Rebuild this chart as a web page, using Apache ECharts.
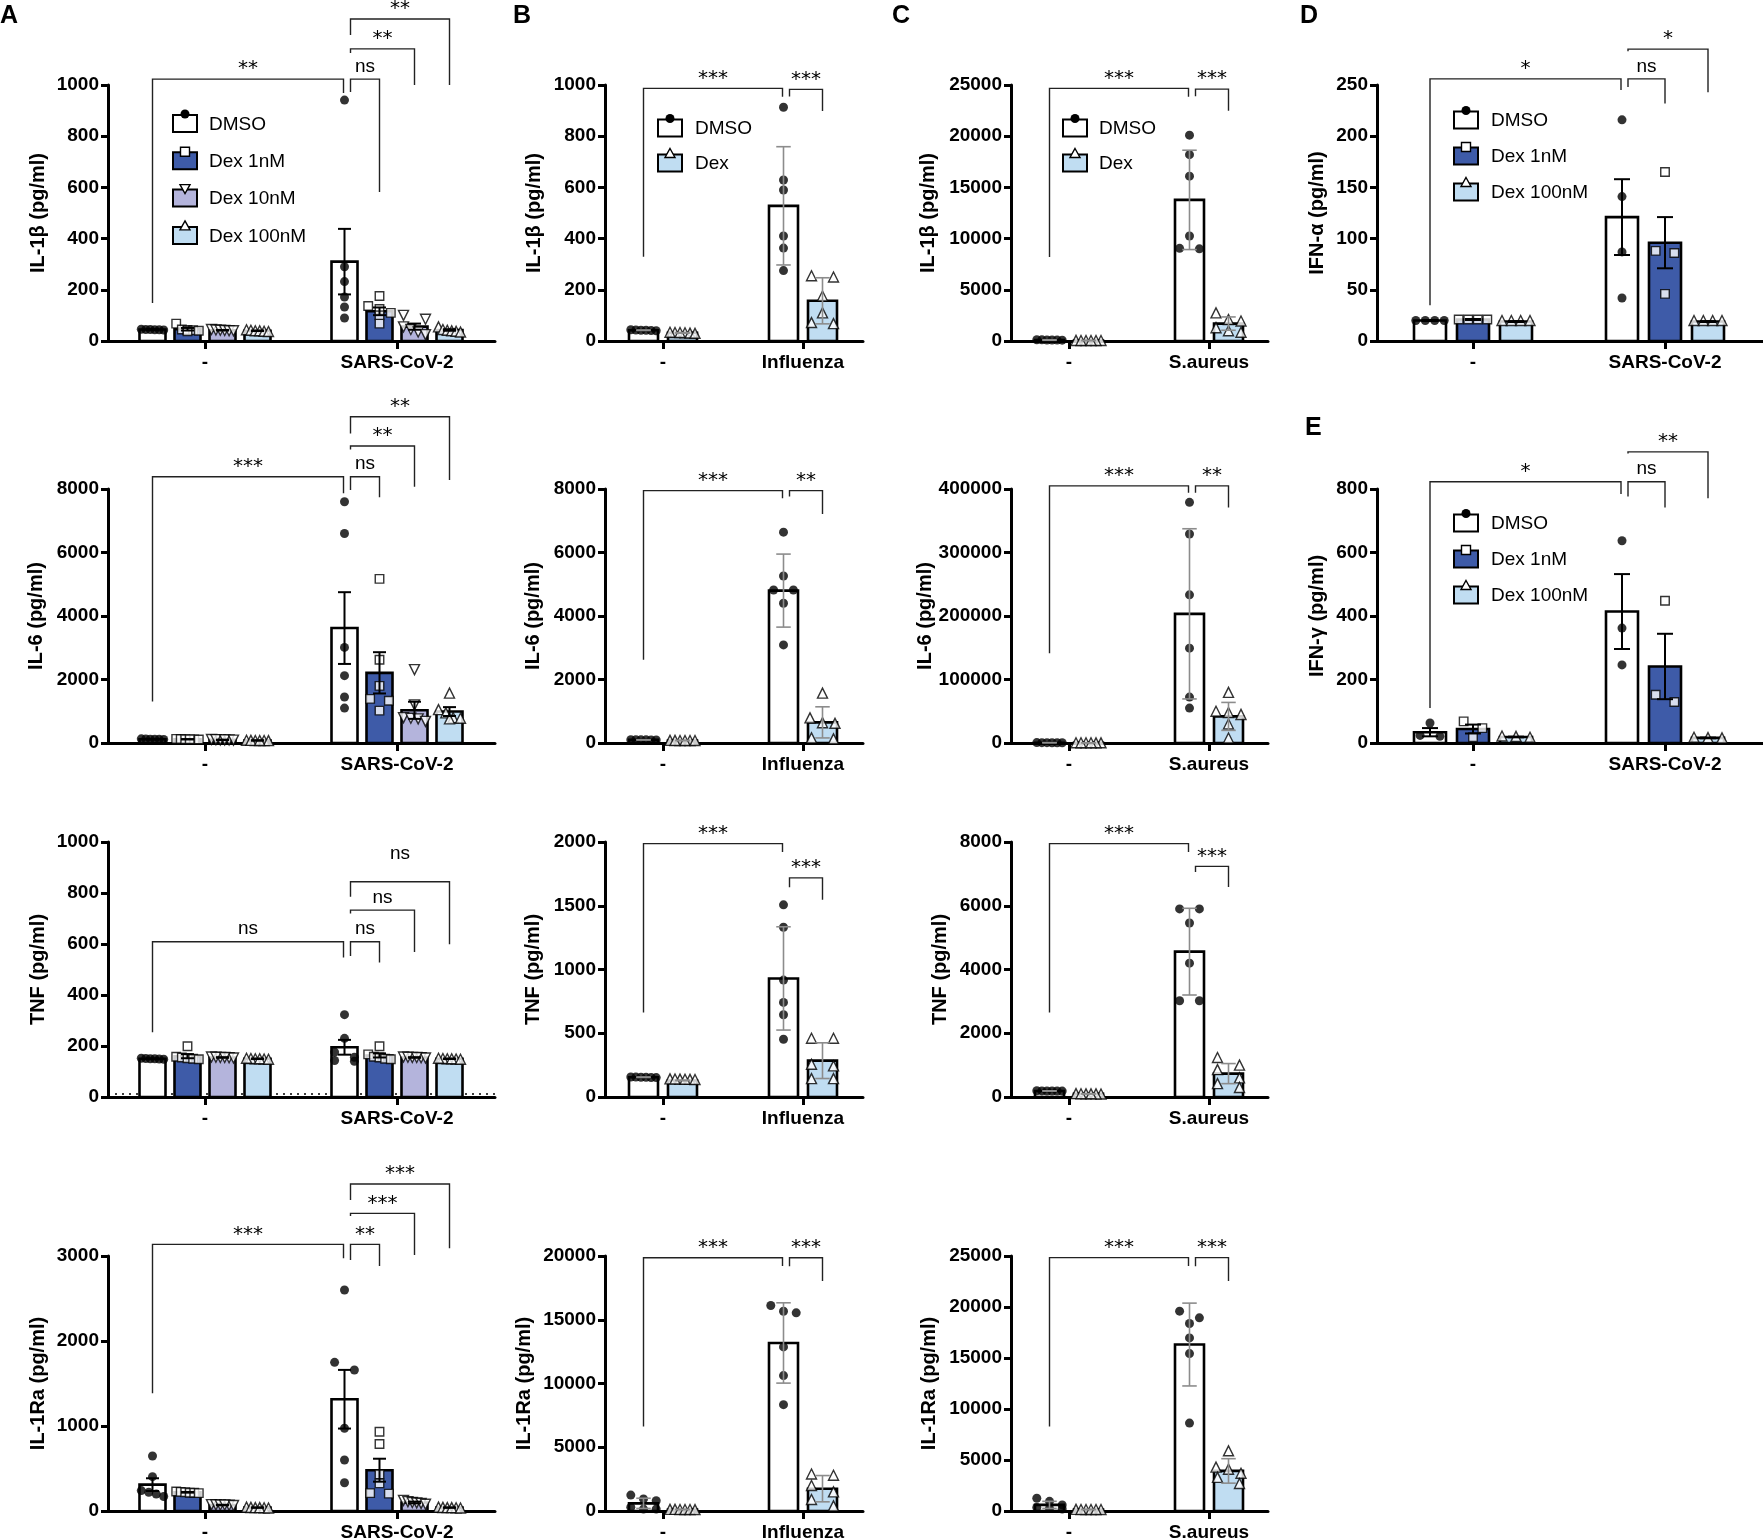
<!DOCTYPE html>
<html><head><meta charset="utf-8">
<script src="https://cdn.jsdelivr.net/npm/echarts@6/dist/echarts.min.js"></script>
<style>html,body{margin:0;padding:0;background:#fff}#c{width:1763px;height:1540px}</style>
</head><body><div id="c"></div>
<script>
// ---------------- DATA ----------------
const COND_SARS = ['-', 'SARS-CoV-2'];
const COND_FLU = ['-', 'Influenza'];
const COND_SA = ['-', 'S.aureus'];
const TREAT_4 = ['DMSO', 'Dex 1nM', 'Dex 10nM', 'Dex 100nM'];
const TREAT_2 = ['DMSO', 'Dex'];
const TREAT_3 = ['DMSO', 'Dex 1nM', 'Dex 100nM'];

// index: [condition][treatment]
const IL1B_SARS_MEAN = [[45, 46, 42, 40], [310, 116, 56, 43]];
const IL1B_SARS_ERR = [[1, 5, 1, 1], [128, 15, 12, 3]];
const IL1B_SARS_PTS = [
  [[44, 45, 43, 46, 44, 45], [68, 45, 43, 42, 40, 38], [45, 43, 42, 41, 40, 40], [44, 42, 40, 40, 38, 37]],
  [[941, 290, 232, 172, 133, 90], [176, 137, 125, 110, 100, 68], [100, 85, 55, 45, 35, 25], [55, 45, 42, 40, 38, 35]]
];
const IL1B_SARS_BR = [
  {a: [0, 0], b: [1, 0], y: 1023, la: 148, lb: 969, t: '**'},
  {a: [1, 0], b: [1, 1], y: 1023, la: 973, lb: 582, t: 'ns'},
  {a: [1, 0], b: [1, 2], y: 1141, la: 1125, lb: 1000, t: '**'},
  {a: [1, 0], b: [1, 3], y: 1258, la: 1195, lb: 1000, t: '**'}
];

const IL6_SARS_MEAN = [[120, 118, 100, 80], [3620, 2210, 1030, 990]];
const IL6_SARS_ERR = [[5, 5, 5, 5], [1130, 650, 270, 140]];
const IL6_SARS_PTS = [
  [[130, 120, 115, 125, 118, 112], [130, 125, 120, 115, 118, 112], [110, 100, 95, 105, 98, 92], [85, 80, 78, 82, 76, 79]],
  [[7600, 6600, 3010, 2120, 1450, 1100], [5170, 2620, 1800, 1390, 1330, 1020], [2310, 1200, 800, 780, 760, 680], [1570, 1050, 950, 800, 780, 760]]
];
const IL6_SARS_BR = [
  {a: [0, 0], b: [1, 0], y: 8388, la: 1311, lb: 7864, t: '***'},
  {a: [1, 0], b: [1, 1], y: 8388, la: 7969, lb: 7738, t: 'ns'},
  {a: [1, 0], b: [1, 2], y: 9353, la: 9248, lb: 8073, t: '**'},
  {a: [1, 0], b: [1, 3], y: 10275, la: 9751, lb: 8283, t: '**'}
];

const TNF_SARS_MEAN = [[150, 160, 155, 150], [195, 163, 155, 150]];
const TNF_SARS_ERR = [[1, 8, 1, 1], [29, 8, 1, 1]];
const TNF_SARS_PTS = [
  [[152, 150, 149, 151, 150, 148], [199, 158, 155, 152, 150, 148], [157, 155, 154, 156, 153, 155], [150, 151, 149, 150, 148, 152]],
  [[323, 230, 176, 156, 143, 140], [199, 167, 158, 155, 150, 148], [157, 155, 154, 156, 153, 155], [150, 151, 149, 150, 148, 152]]
];
const TNF_SARS_BR = [
  {a: [0, 0], b: [1, 0], y: 609, la: 254, lb: 547, t: 'ns'},
  {a: [1, 0], b: [1, 1], y: 609, la: 553, lb: 527, t: 'ns'},
  {a: [1, 0], b: [1, 2], y: 733, la: 720, lb: 569, t: 'ns'},
  {a: [1, 0], b: [1, 3], y: 844, la: 785, lb: 599, t: 'ns', lift: 16}
];

const IL1RA_SARS_MEAN = [[310, 220, 70, 40], [1315, 480, 100, 40]];
const IL1RA_SARS_ERR = [[75, 4, 3, 2], [345, 135, 10, 2]];
const IL1RA_SARS_PTS = [
  [[647, 404, 240, 220, 200, 170], [230, 225, 220, 215, 215, 210], [75, 72, 70, 68, 70, 65], [45, 42, 40, 38, 40, 35]],
  [[2600, 1749, 1659, 973, 600, 333], [933, 788, 431, 325, 210, 205], [125, 110, 100, 95, 90, 80], [45, 42, 40, 38, 40, 35]]
];
const IL1RA_SARS_BR = [
  {a: [0, 0], b: [1, 0], y: 3137, la: 1384, lb: 2973, t: '***'},
  {a: [1, 0], b: [1, 1], y: 3137, la: 2953, lb: 2882, t: '**'},
  {a: [1, 0], b: [1, 2], y: 3502, la: 3470, lb: 3012, t: '***'},
  {a: [1, 0], b: [1, 3], y: 3847, la: 3660, lb: 3090, t: '***'}
];

const IL1B_FLU_MEAN = [[42, 32], [528, 157]];
const IL1B_FLU_ERR = [[1, 1], [231, 90]];
const IL1B_FLU_PTS = [
  [[42, 43, 41, 42, 44, 40], [33, 32, 34, 31, 33, 30]],
  [[913, 629, 590, 410, 363, 275], [255, 250, 176, 110, 72, 68]]
];
const IL1B_FLU_BR = [
  {a: [0, 0], b: [1, 0], y: 987, la: 329, lb: 954, t: '***'},
  {a: [1, 0], b: [1, 1], y: 983, la: 955, lb: 898, t: '***'}
];

const IL6_FLU_MEAN = [[100, 80], [4800, 650]];
const IL6_FLU_ERR = [[5, 5], [1150, 490]];
const IL6_FLU_PTS = [
  [[100, 105, 98, 102, 96, 99], [80, 78, 82, 79, 81, 77]],
  [[6640, 5260, 4820, 4820, 4400, 3090], [1570, 790, 640, 620, 160, 130]]
];
const IL6_FLU_BR = [
  {a: [0, 0], b: [1, 0], y: 7948, la: 2621, lb: 7707, t: '***'},
  {a: [1, 0], b: [1, 1], y: 7948, la: 7760, lb: 7214, t: '**'}
];

const TNF_FLU_MEAN = [[155, 130], [930, 285]];
const TNF_FLU_ERR = [[2, 2], [405, 140]];
const TNF_FLU_PTS = [
  [[155, 153, 157, 154, 156, 152], [140, 142, 138, 141, 139, 137]],
  [[1507, 1331, 917, 742, 645, 453], [461, 461, 257, 244, 144, 144]]
];
const TNF_FLU_BR = [
  {a: [0, 0], b: [1, 0], y: 1987, la: 663, lb: 1921, t: '***'},
  {a: [1, 0], b: [1, 1], y: 1719, la: 1646, lb: 1547, t: '***'}
];

const IL1RA_FLU_MEAN = [[600, 120], [13180, 1750]];
const IL1RA_FLU_ERR = [[400, 8], [3150, 1030]];
const IL1RA_FLU_PTS = [
  [[1250, 950, 800, 300, 150, 150], [130, 125, 120, 118, 115, 112]],
  [[16120, 15670, 15540, 12870, 10620, 8340], [2900, 2800, 2000, 1500, 900, 400]]
];
const IL1RA_FLU_BR = [
  {a: [0, 0], b: [1, 0], y: 19867, la: 6631, lb: 19212, t: '***'},
  {a: [1, 0], b: [1, 1], y: 19867, la: 19200, lb: 18032, t: '***'}
];

const IL1B_SA_MEAN = [[100, 50], [13780, 1700]];
const IL1B_SA_ERR = [[30, 10], [4850, 650]];
const IL1B_SA_PTS = [
  [[120, 100, 90, 110, 95, 85], [50, 55, 45, 52, 48, 50]],
  [[20100, 18200, 16100, 10250, 9050, 9000], [2750, 2100, 1950, 1300, 1000, 850]]
];
const IL1B_SA_BR = [
  {a: [0, 0], b: [1, 0], y: 24674, la: 8214, lb: 23860, t: '***'},
  {a: [1, 0], b: [1, 1], y: 24600, la: 23900, lb: 22490, t: '***'}
];

const IL6_SA_MEAN = [[500, 300], [203400, 41900]];
const IL6_SA_ERR = [[100, 50], [134000, 22000]];
const IL6_SA_PTS = [
  [[600, 500, 450, 550, 480, 420], [300, 320, 280, 310, 290, 300]],
  [[379000, 329200, 233300, 149400, 72300, 55000], [79700, 50000, 48000, 45000, 30000, 7900]]
];
const IL6_SA_BR = [
  {a: [0, 0], b: [1, 0], y: 405000, la: 141500, lb: 394000, t: '***'},
  {a: [1, 0], b: [1, 1], y: 405000, la: 394000, lb: 371000, t: '**'}
];

const TNF_SA_MEAN = [[190, 100], [4560, 734]];
const TNF_SA_ERR = [[5, 5], [1360, 315]];
const TNF_SA_PTS = [
  [[190, 195, 185, 192, 188, 190], [100, 105, 95, 102, 98, 100]],
  [[5900, 5900, 5460, 4200, 3020, 3020], [1240, 1000, 860, 600, 420, 300]]
];
const TNF_SA_BR = [
  {a: [0, 0], b: [1, 0], y: 7948, la: 2653, lb: 7685, t: '***'},
  {a: [1, 0], b: [1, 1], y: 7235, la: 7056, lb: 6585, t: '***'}
];

const IL1RA_SA_MEAN = [[600, 150], [16320, 3930]];
const IL1RA_SA_ERR = [[350, 8], [4060, 1200]];
const IL1RA_SA_PTS = [
  [[1250, 950, 600, 350, 250, 200], [150, 155, 145, 150, 148, 152]],
  [[19590, 18940, 18380, 16970, 15430, 8620], [5900, 4300, 4100, 3700, 3300, 2700]]
];
const IL1RA_SA_BR = [
  {a: [0, 0], b: [1, 0], y: 24836, la: 8290, lb: 24017, t: '***'},
  {a: [1, 0], b: [1, 1], y: 24836, la: 24000, lb: 22542, t: '***'}
];

const IFNA_MEAN = [[20, 21, 19], [121, 96, 19]];
const IFNA_ERR = [[0.5, 0.5, 0.5], [37, 25, 0.5]];
const IFNA_PTS = [
  [[20, 20, 20, 20], [21, 21, 21, 21], [20, 20, 20, 20]],
  [[216, 141, 87, 42], [165, 88, 86, 46], [20, 20, 20, 20]]
];
const IFNA_BR = [
  {a: [0, 0], b: [1, 0], y: 256, la: 35, lb: 245, t: '*'},
  {a: [1, 0], b: [1, 1], y: 256, la: 248, lb: 232, t: 'ns'},
  {a: [1, 0], b: [1, 2], y: 285, la: 283, lb: 243, t: '*'}
];

const IFNG_MEAN = [[34, 44, 19], [414, 241, 16]];
const IFNG_ERR = [[13, 14, 1], [118, 103, 1]];
const IFNG_PTS = [
  [[63, 24, 21], [68, 47, 18], [22, 21, 18]],
  [[637, 362, 246], [448, 152, 129], [18, 17, 16]]
];
const IFNG_BR = [
  {a: [0, 0], b: [1, 0], y: 823, la: 110, lb: 784, t: '*'},
  {a: [1, 0], b: [1, 1], y: 823, la: 776, lb: 742, t: 'ns'},
  {a: [1, 0], b: [1, 2], y: 917, la: 912, lb: 771, t: '**'}
];

// ---------------- LAYOUT / STYLE ----------------
const ROWS = [{top: 85, bottom: 341}, {top: 489, bottom: 743}, {top: 842, bottom: 1097}, {top: 1256, bottom: 1511}];
const COLS = {
  A: {left: 108, right: 495, t0: 205, t1: 397, sp: 35, bw: 26},
  B: {left: 605, right: 863, t0: 663, t1: 803, sp: 39, bw: 29},
  C: {left: 1011, right: 1268, t0: 1069, t1: 1209, sp: 39, bw: 29},
  D: {left: 1377, right: 1763, t0: 1473, t1: 1665, sp: 43, bw: 32}
};
const FILL = {'DMSO': '#ffffff', 'Dex 1nM': '#3e5ba8', 'Dex 10nM': '#b4b4dc', 'Dex 100nM': '#c0ddf2', 'Dex': '#c0ddf2'};
const SYM = {
  'DMSO': {symbol: 'circle', size: 9, rot: 0, style: {color: '#000'}},
  'Dex 1nM': {symbol: 'rect', size: 8.5, rot: 0, style: {color: '#fff', borderColor: '#000', borderWidth: 1.4}},
  'Dex 10nM': {symbol: 'triangle', size: 10, rot: 180, style: {color: '#fff', borderColor: '#000', borderWidth: 1.4}},
  'Dex 100nM': {symbol: 'triangle', size: 10, rot: 0, style: {color: '#fff', borderColor: '#000', borderWidth: 1.4}},
  'Dex': {symbol: 'triangle', size: 10, rot: 0, style: {color: '#fff', borderColor: '#000', borderWidth: 1.4}}
};
const FONT = 'Liberation Sans';

const PANELS = [
  {row: 0, col: 'A', name: 'IL-1β (pg/ml)', cond: COND_SARS, treat: TREAT_4, max: 1000, step: 200, mean: IL1B_SARS_MEAN, err: IL1B_SARS_ERR, pts: IL1B_SARS_PTS, br: IL1B_SARS_BR, gap: 60, sd: false, legend: {x: 173, y: 123.5, dy: 37.3, tx: 209}},
  {row: 0, col: 'B', name: 'IL-1β (pg/ml)', cond: COND_FLU, treat: TREAT_2, max: 1000, step: 200, mean: IL1B_FLU_MEAN, err: IL1B_FLU_ERR, pts: IL1B_FLU_PTS, br: IL1B_FLU_BR, gap: 61, sd: true, legend: {x: 658, y: 128, dy: 35, tx: 695}},
  {row: 0, col: 'C', name: 'IL-1β (pg/ml)', cond: COND_SA, treat: TREAT_2, max: 25000, step: 5000, mean: IL1B_SA_MEAN, err: IL1B_SA_ERR, pts: IL1B_SA_PTS, br: IL1B_SA_BR, gap: 73, sd: true, legend: {x: 1063, y: 128, dy: 35, tx: 1099}},
  {row: 0, col: 'D', name: 'IFN-α (pg/ml)', cond: COND_SARS, treat: TREAT_3, max: 250, step: 50, mean: IFNA_MEAN, err: IFNA_ERR, pts: IFNA_PTS, br: IFNA_BR, gap: 50, sd: false, legend: {x: 1454, y: 120, dy: 36, tx: 1491}},
  {row: 1, col: 'A', name: 'IL-6 (pg/ml)', cond: COND_SARS, treat: TREAT_4, max: 8000, step: 2000, mean: IL6_SARS_MEAN, err: IL6_SARS_ERR, pts: IL6_SARS_PTS, br: IL6_SARS_BR, gap: 62, sd: false},
  {row: 1, col: 'B', name: 'IL-6 (pg/ml)', cond: COND_FLU, treat: TREAT_2, max: 8000, step: 2000, mean: IL6_FLU_MEAN, err: IL6_FLU_ERR, pts: IL6_FLU_PTS, br: IL6_FLU_BR, gap: 62, sd: true},
  {row: 1, col: 'C', name: 'IL-6 (pg/ml)', cond: COND_SA, treat: TREAT_2, max: 400000, step: 100000, mean: IL6_SA_MEAN, err: IL6_SA_ERR, pts: IL6_SA_PTS, br: IL6_SA_BR, gap: 76, sd: true},
  {row: 1, col: 'D', name: 'IFN-γ (pg/ml)', cond: COND_SARS, treat: TREAT_3, max: 800, step: 200, mean: IFNG_MEAN, err: IFNG_ERR, pts: IFNG_PTS, br: IFNG_BR, gap: 50, sd: false, legend: {x: 1454, y: 523, dy: 36, tx: 1491}},
  {row: 2, col: 'A', name: 'TNF (pg/ml)', cond: COND_SARS, treat: TREAT_4, max: 1000, step: 200, mean: TNF_SARS_MEAN, err: TNF_SARS_ERR, pts: TNF_SARS_PTS, br: TNF_SARS_BR, gap: 60, sd: false, dotted: true},
  {row: 2, col: 'B', name: 'TNF (pg/ml)', cond: COND_FLU, treat: TREAT_2, max: 2000, step: 500, mean: TNF_FLU_MEAN, err: TNF_FLU_ERR, pts: TNF_FLU_PTS, br: TNF_FLU_BR, gap: 62, sd: true},
  {row: 2, col: 'C', name: 'TNF (pg/ml)', cond: COND_SA, treat: TREAT_2, max: 8000, step: 2000, mean: TNF_SA_MEAN, err: TNF_SA_ERR, pts: TNF_SA_PTS, br: TNF_SA_BR, gap: 61, sd: true},
  {row: 3, col: 'A', name: 'IL-1Ra (pg/ml)', cond: COND_SARS, treat: TREAT_4, max: 3000, step: 1000, mean: IL1RA_SARS_MEAN, err: IL1RA_SARS_ERR, pts: IL1RA_SARS_PTS, br: IL1RA_SARS_BR, gap: 60, sd: false},
  {row: 3, col: 'B', name: 'IL-1Ra (pg/ml)', cond: COND_FLU, treat: TREAT_2, max: 20000, step: 5000, mean: IL1RA_FLU_MEAN, err: IL1RA_FLU_ERR, pts: IL1RA_FLU_PTS, br: IL1RA_FLU_BR, gap: 71, sd: true},
  {row: 3, col: 'C', name: 'IL-1Ra (pg/ml)', cond: COND_SA, treat: TREAT_2, max: 25000, step: 5000, mean: IL1RA_SA_MEAN, err: IL1RA_SA_ERR, pts: IL1RA_SA_PTS, br: IL1RA_SA_BR, gap: 72, sd: true}
];
const LETTERS = [
  {t: 'A', x: 0, y: 16}, {t: 'B', x: 513, y: 16}, {t: 'C', x: 892, y: 16},
  {t: 'D', x: 1300, y: 16}, {t: 'E', x: 1305, y: 428}
];

// horizontal spreading of overlapping points (beeswarm-like, deterministic)
function swarm(vals, max, plotH, sym, barW) {
  const idx = vals.map((v, i) => i).sort((a, b) => vals[b] - vals[a]);
  const off = new Array(vals.length).fill(0);
  let k = 0;
  while (k < idx.length) {
    const start = vals[idx[k]] / max * plotH;
    let j = k + 1;
    while (j < idx.length && start - vals[idx[j]] / max * plotH < sym * 0.9) j++;
    const n = j - k;
    if (n > 1) {
      const s = Math.min(sym * 2.2, (barW - sym * 0.4) / (n - 1));
      for (let q = 0; q < n; q++) off[idx[k + q]] = (q - (n - 1) / 2) * s;
    }
    k = j;
  }
  return off;
}

const option = {animation: false, grid: [], xAxis: [], yAxis: [], series: [], graphic: []};

PANELS.forEach((p, k) => {
  const col = COLS[p.col], row = ROWS[p.row];
  const unit = col.t1 - col.t0;
  const plotH = row.bottom - row.top;
  const nT = p.treat.length;
  const xs = (c, i) => c + (i - (nT - 1) / 2) * col.sp / unit;
  const axisLS = {color: '#000', width: 3};

  option.grid.push({left: col.left, top: row.top, width: col.right - col.left, height: plotH, containLabel: false, outerBoundsMode: 'none'});
  option.xAxis.push({
    gridIndex: k, type: 'value', min: (col.left - col.t0) / unit, max: (col.right - col.t0) / unit,
    axisLine: {show: true, onZero: false, lineStyle: axisLS},
    axisTick: {show: true, customValues: [0, 1], length: 8, lineStyle: axisLS},
    axisLabel: {show: true, customValues: [0, 1], formatter: v => p.cond[Math.round(v)], margin: 12,
      fontFamily: FONT, fontWeight: 'bold', fontSize: 19, color: '#000'},
    splitLine: {show: false}
  });
  option.yAxis.push({
    gridIndex: k, type: 'value', min: 0, max: p.max, interval: p.step,
    name: p.name, nameLocation: 'middle', nameGap: p.gap, nameMoveOverlap: false,
    nameTextStyle: {fontFamily: FONT, fontWeight: 'bold', fontSize: 20, color: '#000'},
    axisLine: {show: true, onZero: false, lineStyle: axisLS},
    axisTick: {show: true, length: 7, lineStyle: axisLS},
    axisLabel: {formatter: v => String(v), margin: 9, fontFamily: FONT, fontWeight: 'bold', fontSize: 19, color: '#000'},
    splitLine: {show: false}
  });

  // bars
  const barData = [];
  for (let c = 0; c < 2; c++) for (let i = 0; i < nT; i++) barData.push([xs(c, i), p.mean[c][i], p.err[c][i], i]);
  option.series.push({
    type: 'custom', xAxisIndex: k, yAxisIndex: k, z: 2, silent: true, data: barData,
    renderItem: (params, api) => {
      const x = api.value(0), m = api.value(1), ti = api.value(3);
      const a = api.coord([x, 0]), b = api.coord([x, m]);
      return {type: 'rect', shape: {x: a[0] - col.bw / 2, y: b[1], width: col.bw, height: a[1] - b[1]},
        style: {fill: FILL[p.treat[ti]], stroke: '#000', lineWidth: 2.6}};
    }
  });

  // points
  p.treat.forEach((tname, i) => {
    const sy = SYM[tname];
    const data = [];
    for (let c = 0; c < 2; c++) {
      const vals = p.pts[c][i];
      const off = swarm(vals, p.max, plotH, sy.size, col.bw);
      vals.forEach((v, q) => data.push([xs(c, i) + off[q] / unit, v]));
    }
    option.series.push({type: 'scatter', name: tname, xAxisIndex: k, yAxisIndex: k, z: 3, silent: true, clip: false,
      symbol: sy.symbol, symbolSize: sy.size, symbolRotate: sy.rot, itemStyle: sy.style, data});
  });

  // error bars
  const ecol = p.sd ? '#8c8c8c' : '#000', ew = p.sd ? 1.6 : 2;
  option.series.push({
    type: 'custom', xAxisIndex: k, yAxisIndex: k, z: 4, silent: true, data: barData,
    renderItem: (params, api) => {
      const x = api.value(0), m = api.value(1), e = api.value(2);
      const t = api.coord([x, m + e]), b = api.coord([x, Math.max(0, m - e)]);
      const cw = col.bw * 0.5, cx = t[0];
      const st = {stroke: ecol, lineWidth: ew};
      return {type: 'group', children: [
        {type: 'line', shape: {x1: cx, y1: t[1], x2: cx, y2: b[1]}, style: st},
        {type: 'line', shape: {x1: cx - cw / 2, y1: t[1], x2: cx + cw / 2, y2: t[1]}, style: st},
        {type: 'line', shape: {x1: cx - cw / 2, y1: b[1], x2: cx + cw / 2, y2: b[1]}, style: st}
      ]};
    }
  });

  // significance brackets
  option.series.push({
    type: 'custom', xAxisIndex: k, yAxisIndex: k, z: 5, silent: true, clip: false,
    data: p.br.map(br => [xs(br.a[0], br.a[1]), 0]),
    renderItem: (params, api) => {
      const br = p.br[params.dataIndex];
      const same = br.a[0] === br.b[0];
      const x1 = xs(br.a[0], br.a[1]) + (same ? 6 / unit : 0);
      const x2 = xs(br.b[0], br.b[1]) - (same ? 0 : 1 / unit);
      const pl = api.coord([x1, br.y]), pr = api.coord([x2, br.y]);
      const pla = api.coord([x1, br.la]), plb = api.coord([x2, br.lb]);
      const st = {stroke: '#222', lineWidth: 1.4};
      const star = br.t !== 'ns';
      return {type: 'group', children: [
        {type: 'polyline', shape: {points: [[pla[0], pla[1]], [pl[0], pl[1]], [pr[0], pr[1]], [plb[0], plb[1]]]}, style: Object.assign({fill: null}, st)},
        {type: 'text', x: (pl[0] + pr[0]) / 2, y: pl[1] - (star ? 0 : 3) - (br.lift || 0),
          style: {text: br.t, fill: '#000', textAlign: 'center', textVerticalAlign: 'bottom',
            font: star ? '20px "DejaVu Sans"' : '19px "Liberation Sans"'}}
      ]};
    }
  });

  // dotted baseline just above the x axis (TNF SARS-CoV-2 panel)
  if (p.dotted) {
    option.graphic.push({type: 'line', z: 1, silent: true,
      shape: {x1: col.left, y1: row.bottom - 3, x2: col.right, y2: row.bottom - 3},
      style: {stroke: '#000', lineWidth: 1.5, lineDash: [2, 5]}});
  }

  // legend
  if (p.legend) {
    const L = p.legend;
    p.treat.forEach((tname, i) => {
      const cy = L.y + i * L.dy;
      const top = cy - 8.5, mx = L.x + 12;
      option.graphic.push({type: 'rect', silent: true, shape: {x: L.x, y: top, width: 24, height: 17},
        style: {fill: FILL[tname], stroke: '#000', lineWidth: 2}});
      const sy = SYM[tname];
      let mk;
      if (sy.symbol === 'circle') mk = {type: 'circle', shape: {cx: mx, cy: top - 1, r: 4.5}, style: {fill: '#000'}};
      else if (sy.symbol === 'rect') mk = {type: 'rect', shape: {x: mx - 4.5, y: top - 5, width: 9, height: 9}, style: {fill: '#fff', stroke: '#000', lineWidth: 1.4}};
      else if (sy.rot === 180) mk = {type: 'polygon', shape: {points: [[mx - 5, top - 5], [mx + 5, top - 5], [mx, top + 4]]}, style: {fill: '#fff', stroke: '#000', lineWidth: 1.4}};
      else mk = {type: 'polygon', shape: {points: [[mx, top - 6], [mx + 5, top + 3], [mx - 5, top + 3]]}, style: {fill: '#fff', stroke: '#000', lineWidth: 1.4}};
      mk.silent = true; mk.z = 10;
      option.graphic.push(mk);
      option.graphic.push({type: 'text', silent: true, x: L.tx, y: cy + 1,
        style: {text: tname, fill: '#000', font: '19px "Liberation Sans"', textVerticalAlign: 'middle'}});
    });
  }
});

LETTERS.forEach(l => option.graphic.push({type: 'text', silent: true, x: l.x, y: l.y,
  style: {text: l.t, fill: '#000', font: 'bold 25px "Liberation Sans"', textVerticalAlign: 'middle'}}));

const chart = echarts.init(document.getElementById('c'), null, {renderer: 'canvas', width: 1763, height: 1540});
chart.setOption(option);
</script></body></html>
